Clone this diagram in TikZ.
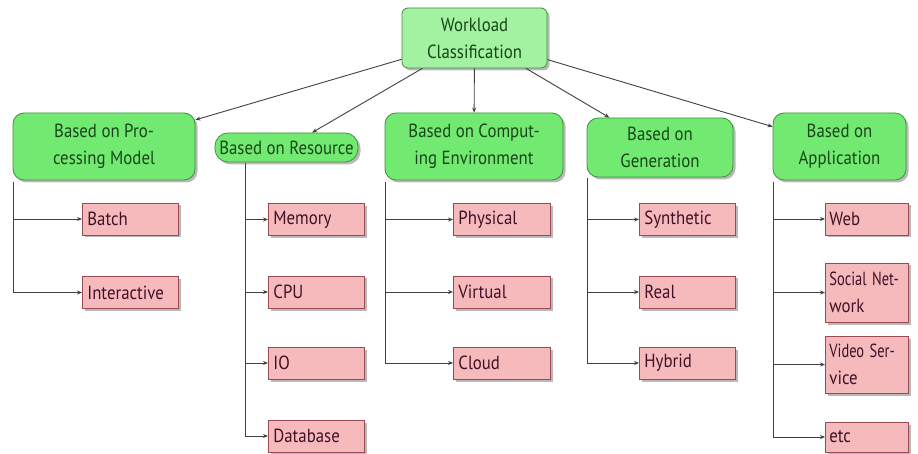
\documentclass[tikz,border=0pt]{standalone}
\usepackage{fontspec}
\setmainfont[FakeStretch=0.885]{PT Sans}
\usetikzlibrary{shadows,arrows.meta}

\definecolor{rootfill}{HTML}{A2F2A2}
\definecolor{catfill}{HTML}{72EA72}
\definecolor{catline}{HTML}{3F8F3F}
\definecolor{cattext}{HTML}{174517}
\definecolor{leaffill}{HTML}{F6BABD}
\definecolor{leafline}{HTML}{9A4A52}
\definecolor{leaftext}{HTML}{3E1226}
\definecolor{linkgray}{HTML}{404040}

% squeeze a label horizontally
\newcommand{\squeezed}[1]{\scalebox{0.86}[1]{#1}}

\begin{document}
\begin{tikzpicture}[x=1pt,y=-1pt,
  every node/.style={font=\fontsize{19}{27}\selectfont},
  boxshadow/.style={drop shadow={shadow xshift=2.5pt,shadow yshift=-2.5pt,fill=black!50,opacity=.55}},
  rootbox/.style={draw=catline, fill=rootfill, rounded corners=6pt, text=cattext,
    align=center, minimum width=145pt, minimum height=60pt, line width=0.8pt, boxshadow},
  catbox/.style={draw=catline, fill=catfill, rounded corners=11pt, text=cattext,
    align=center, minimum height=67pt, line width=0.8pt, boxshadow, inner sep=2pt},
  leafbox/.style={draw=leafline, fill=leaffill, text=leaftext, align=left, anchor=west,
    inner xsep=5pt, inner ysep=1pt, minimum height=32pt, line width=0.8pt, boxshadow},
  appleaf/.style={leafbox, inner xsep=4pt, text width=75pt},
  link/.style={draw=linkgray, line width=0.9pt, -{Stealth[length=5pt,width=4pt]}}
]
\useasboundingbox (0,0) rectangle (918,454);

% root and the five criteria
\node[rootbox] (root) at (474.5,38) {Workload\\Classification};
\node[catbox, minimum width=182pt] (proc) at (104,146.5) {Based on Pro-\\cessing Model};
\node[catbox, minimum width=143pt, minimum height=29pt, rounded corners=13pt, inner xsep=1pt] (res) at (286.5,147.5) {Based on Resource};
\node[catbox, minimum width=178pt] (comp) at (474,146.5) {Based on Comput-\\ing Environment};
\node[catbox, minimum width=146pt, minimum height=59pt] (gen) at (660,147.5) {Based on\\Generation};
\node[catbox, minimum width=133pt] (app) at (839.5,146.5) {Based on\\Application};

\foreach \c in {proc,res,comp,gen,app}
  \draw[link] (root) -- (\c);

% leaves: processing model
\node[leafbox, text width=86pt] (batch) at (82,219) {Batch};
\node[leafbox, text width=86pt] (inter) at (82,292.5) {Interactive};
% leaves: resource
\node[leafbox, text width=86pt] (mem) at (268,219.5) {Memory};
\node[leafbox, text width=86pt] (cpu) at (268,292) {CPU};
\node[leafbox, text width=86pt] (io) at (268,363) {IO};
\node[leafbox, text width=86pt] (db) at (268,436) {Database};
% leaves: computing environment
\node[leafbox, text width=87pt] (phys) at (453,219.5) {Physical};
\node[leafbox, text width=87pt] (virt) at (453,292) {Virtual};
\node[leafbox, text width=87pt] (cloud) at (453,363) {Cloud};
% leaves: generation
\node[leafbox, text width=86pt] (synth) at (639,219.5) {Synthetic};
\node[leafbox, text width=86pt] (real) at (639,292) {Real};
\node[leafbox, text width=86pt] (hyb) at (639,363) {Hybrid};
% leaves: application (narrower column)
\node[appleaf] (web) at (825,219) {Web};
\node[appleaf, minimum height=59pt] (soc) at (825,292.5) {\squeezed{Social Net-}\\work};
\node[appleaf, minimum height=57pt] (vid) at (825,364.5) {\squeezed{Video Ser-}\\vice};
\node[appleaf, minimum height=30pt] (etc) at (825,437) {etc};

% tree stems below each criterion
\coordinate (sp) at (13,182);
\coordinate (sr) at (245,163);
\coordinate (sc) at (385,182);
\coordinate (sg) at (587,178);
\coordinate (sa) at (773,182);

\foreach \s/\leaf in {sp/batch, sp/inter, sr/mem, sr/cpu, sr/io, sr/db,
    sc/phys, sc/virt, sc/cloud, sg/synth, sg/real, sg/hyb,
    sa/web, sa/soc, sa/vid, sa/etc}
  \draw[link] (\s) |- (\leaf.west);
\end{tikzpicture}
\end{document}
